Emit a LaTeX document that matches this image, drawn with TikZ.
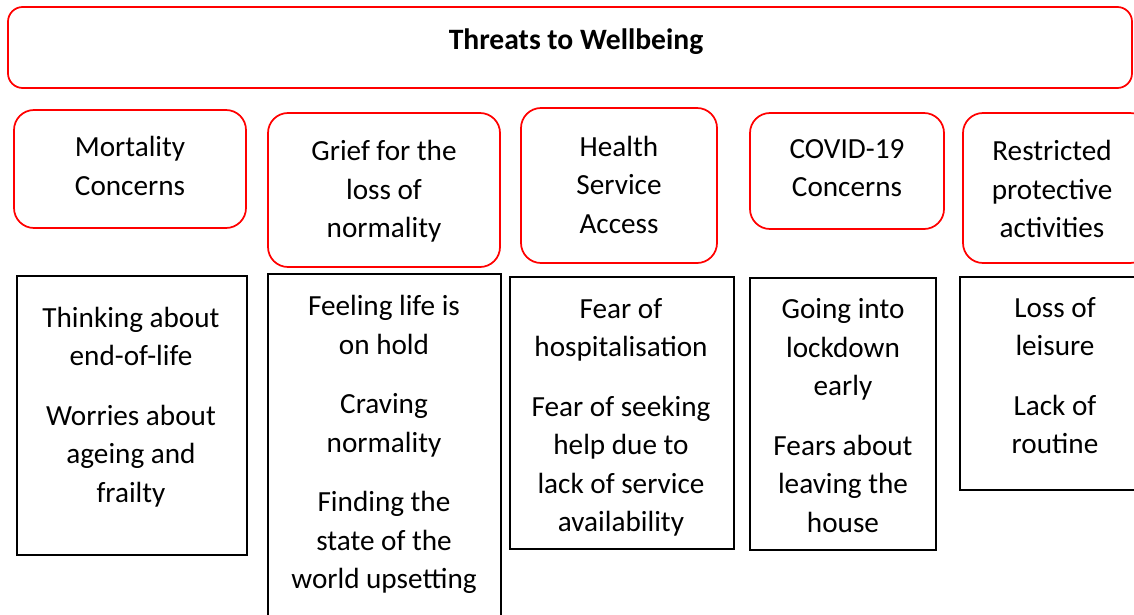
\documentclass[tikz,border=0pt]{standalone}
\usepackage{fontspec}
\setmainfont{Carlito}
\newcommand\mkbox[6]{\node[#2, minimum width={(#5-#3)*0.75pt}, minimum height={(#6-#4)*0.75pt}] (#1) at ({(#3+#5)/2},{(#4+#6)/2}) {};}
\newcommand\hs{\vphantom{hg}}
\begin{document}
\begin{tikzpicture}[x=0.75pt,y=-0.75pt,
  redbox/.style={draw=red, line width=1.3pt, rounded corners=15pt, inner sep=0pt},
  topbox/.style={draw=red, line width=1.3pt, rounded corners=11pt, inner sep=0pt},
  blkbox/.style={draw=black, line width=1.5pt, inner sep=0pt},
  txt/.style={align=center, font=\fontsize{21.9}{28.9}\selectfont, inner sep=0pt, yshift=-2.5*0.75pt},
  ttl/.style={align=center, font=\fontsize{22.2}{26}\selectfont\bfseries, inner sep=0pt},
  ]
\useasboundingbox (0,0) rectangle (1134,614);
% top box
\mkbox{top}{topbox}{8}{7}{1132}{88}
\node[ttl] (toptxt) at (576,42) {Threats to Wellbeing};
% red category boxes
\mkbox{r1}{redbox}{14}{110}{246}{228}
\mkbox{r2}{redbox}{268}{113}{500}{267}
\mkbox{r3}{redbox}{521}{108}{717}{263}
\mkbox{r4}{redbox}{750}{113}{944}{229}
\mkbox{r5}{redbox}{963}{113}{1150}{263}
\node[txt] (r1t) at (130,166) {\hs Mortality\\Concerns\hs};
\node[txt] (r2t) at (384,189) {\hs Grief for the\\loss of\\normality\hs};
\node[txt] (r3t) at (619,184.5) {\hs Health\\Service\\Access\hs};
\node[txt] (r4t) at (847,167.5) {\hs COVID-19\\Concerns\hs};
\node[txt] (r5t) at (1052,189) {\hs Restricted\\protective\\activities\hs};
% black boxes
\mkbox{b1}{blkbox}{17}{276}{247}{555}
\mkbox{b2}{blkbox}{268}{274}{501}{625}
\mkbox{b3}{blkbox}{510}{277}{734}{549}
\mkbox{b4}{blkbox}{750}{278}{936}{550}
\mkbox{b5}{blkbox}{960}{277}{1150}{490}
\node[txt] (b1t) at (131,404.5) {\hs Thinking about\\end-of-life\\[15.75pt]Worries about\\ageing and\\frailty\hs};
\node[txt] (b2t) at (384,442) {\hs Feeling life is\\on hold\\[15.75pt]Craving\\normality\\[15.75pt]Finding the\\state of the\\world upsetting\hs};
\node[txt] (b3t) at (621,415) {\hs Fear of\\hospitalisation\\[15.75pt]Fear of seeking\\help due to\\lack of service\\availability\hs};
\node[txt] (b4t) at (843,415.5) {\hs Going into\\lockdown\\early\\[15.75pt]Fears about\\leaving the\\house\hs};
\node[txt] (b5t) at (1055,375.5) {\hs Loss of\\leisure\\[15.75pt]Lack of\\routine\hs};
\end{tikzpicture}
\end{document}
